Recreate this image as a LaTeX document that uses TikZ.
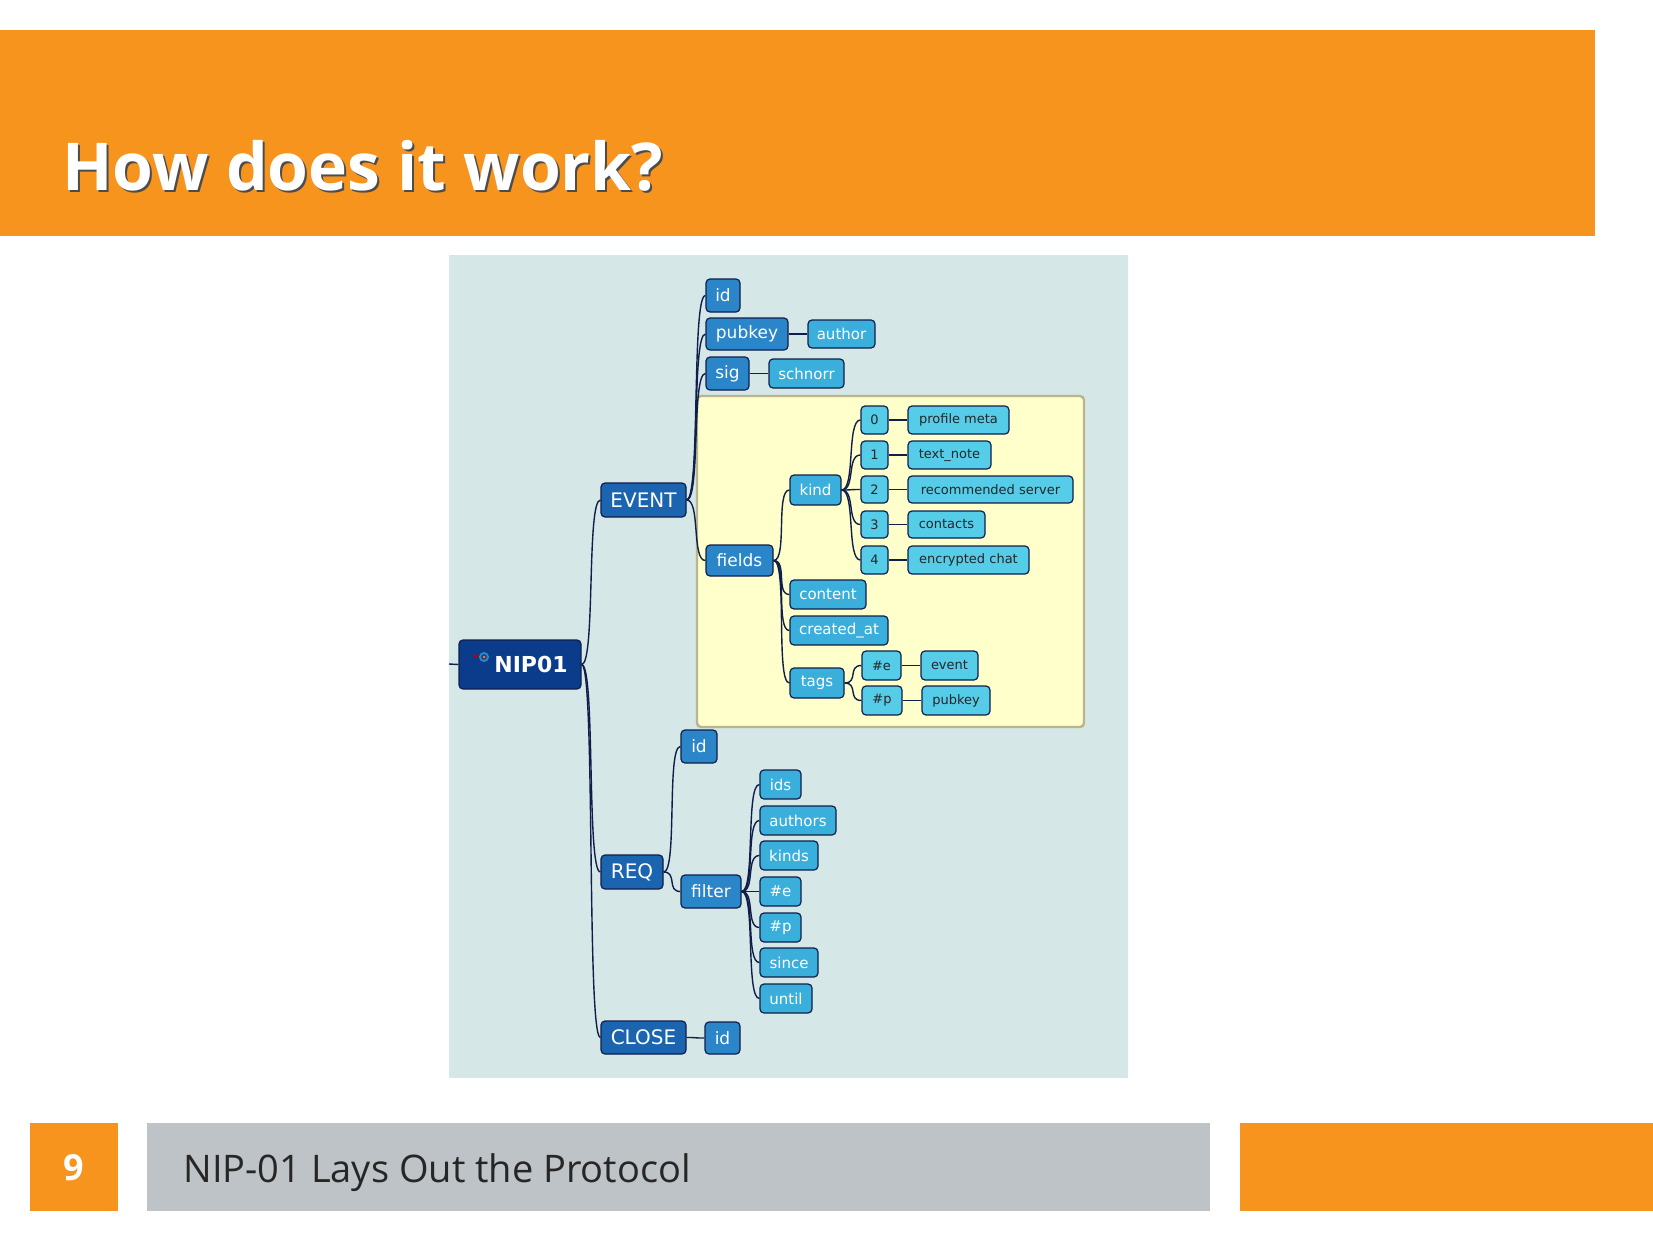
\documentclass[tikz,border=0pt]{standalone}
\usepackage{fontspec}
\setmainfont{Open Sans}
\newfontfamily\djvf{DejaVu Sans}
\usetikzlibrary{fit,calc}
\definecolor{orng}{HTML}{F7941E}
\definecolor{grayb}{HTML}{BEC3C7}
\definecolor{panel}{HTML}{D6E7E8}
\definecolor{yel}{HTML}{FFFFCC}
\definecolor{yelb}{HTML}{B9B68C}
\definecolor{navy}{HTML}{101E4A}
\definecolor{cRoot}{HTML}{0B3C8C}
\definecolor{cA}{HTML}{1B64B0}
\definecolor{cB}{HTML}{2A86C8}
\definecolor{cC}{HTML}{3AAFDC}
\definecolor{cD}{HTML}{55CCE8}
\tikzset{
 box/.style={draw=navy,line width=0.6pt,rounded corners=2pt,inner sep=0pt},
 lvA/.style={box,fill=cA},
 lvB/.style={box,fill=cB},
 lvC/.style={box,fill=cC},
 lvD/.style={box,fill=cD},
 conn/.style={draw=navy,line width=0.7pt},
}
\newcommand{\nd}[8]{\node[#6,fit={(#2,#3)(#4,#5)},label={[font=#7]center:{#8}}] (#1) {};}
\newcommand{\cn}[2]{\draw[conn] (#1.east) .. controls ($(#1.east)+(14,0)$) and ($(#2.west)+(-14,0)$) .. (#2.west);}
\begin{document}
\begin{tikzpicture}[x=0.5pt,y=-0.5pt]
\useasboundingbox (0,0) rectangle (1653,1241);
\fill[white] (0,0) rectangle (1653,1241);
% header
\fill[orng] (0,30) rectangle (1595,236);
\node[anchor=base west,inner sep=0,text=black!70,font=\fontsize{33}{38}\selectfont\bfseries] (tsh) at (64,193) {How does it work?};
\node[anchor=base west,inner sep=0,text=white,font=\fontsize{33}{38}\selectfont\bfseries] (title) at (62,191) {How does it work?};
% footer
\fill[orng] (30,1123) rectangle (118,1211);
\node[text=white,font=\fontsize{18}{20}\selectfont\bfseries] (num) at (74,1168) {9};
\fill[grayb] (147,1123) rectangle (1210,1211);
\node[anchor=base west,inner sep=0,font=\fontsize{19}{23}\selectfont,text=black!85] (foot) at (183,1182) {NIP-01 Lays Out the Protocol};
\fill[orng] (1240,1123) rectangle (1653,1211);
% panel
\fill[panel] (449,255) rectangle (1128,1078);
\draw[yelb,fill=yel,line width=1.2pt,rounded corners=2pt] (697,396) rectangle (1084,727);
\def\fA{\djvf\fontsize{10}{12}\selectfont\color{white}}
\def\fB{\djvf\fontsize{8.5}{10}\selectfont\color{white}}
\def\fC{\djvf\fontsize{7.5}{9}\selectfont\color{white}}
\def\fD{\djvf\fontsize{6.5}{8}\selectfont\color{black!85}}
\node[box,fill=cRoot,fit={(459,640)(581,689)}] (root) {};
\node[font=\djvf\fontsize{11}{13}\selectfont\bfseries,text=white] (rt) at (531,664) {NIP01};
\fill[red!70!black] (476,656) circle (2);
\draw[cB,line width=1pt] (484,657) circle (4);
\fill[orange] (484,657) circle (1.5);
\draw[conn] (449,664) -- (root.west);
\nd{ev}{601}{483}{686}{517}{lvA}{\fA}{EVENT}
\nd{req}{601}{855}{663}{889}{lvA}{\fA}{REQ}
\nd{cl}{601}{1021}{686}{1054}{lvA}{\fA}{CLOSE}
\nd{eid}{706}{279}{740}{312}{lvB}{\fB}{id}
\nd{pk}{706}{318}{788}{350}{lvB}{\fB}{pubkey}
\nd{au}{808}{320}{875}{348}{lvC}{\fC}{author}
\nd{sig}{706}{357}{749}{390}{lvB}{\fB}{sig}
\nd{sch}{769}{359}{844}{388}{lvC}{\fC}{schnorr}
\nd{fi}{706}{545}{773}{576}{lvB}{\fB}{fields}
\nd{ki}{790}{475}{841}{505}{lvC}{\fC}{kind}
\nd{k0}{861}{406}{888}{434}{lvD}{\fD}{0}
\nd{k1}{861}{441}{888}{469}{lvD}{\fD}{1}
\nd{k2}{861}{476}{888}{503}{lvD}{\fD}{2}
\nd{k3}{861}{511}{888}{538}{lvD}{\fD}{3}
\nd{k4}{861}{546}{888}{574}{lvD}{\fD}{4}
\nd{v0}{908}{406}{1009}{434}{lvD}{\fD}{profile meta}
\nd{v1}{908}{441}{991}{469}{lvD}{\fD}{text\_note}
\nd{v2}{908}{476}{1073}{503}{lvD}{\fD}{recommended server}
\nd{v3}{908}{511}{985}{538}{lvD}{\fD}{contacts}
\nd{v4}{908}{546}{1029}{574}{lvD}{\fD}{encrypted chat}
\nd{co}{790}{580}{866}{609}{lvC}{\fC}{content}
\nd{cr}{790}{616}{888}{645}{lvC}{\fC}{created\_at}
\nd{tg}{790}{668}{844}{698}{lvC}{\fC}{tags}
\nd{te}{862}{651}{901}{680}{lvD}{\fD}{\#e}
\nd{tev}{921}{651}{978}{680}{lvD}{\fD}{event}
\nd{tp}{862}{686}{902}{715}{lvD}{\fD}{\#p}
\nd{tpv}{922}{686}{990}{715}{lvD}{\fD}{pubkey}
\nd{rid}{681}{730}{717}{763}{lvB}{\fB}{id}
\nd{flt}{681}{875}{741}{908}{lvB}{\fB}{filter}
\nd{f1}{760}{770}{801}{799}{lvC}{\fC}{ids}
\nd{f2}{760}{806}{836}{835}{lvC}{\fC}{authors}
\nd{f3}{760}{841}{818}{870}{lvC}{\fC}{kinds}
\nd{f4}{760}{877}{801}{906}{lvC}{\fC}{\#e}
\nd{f5}{760}{913}{801}{942}{lvC}{\fC}{\#p}
\nd{f6}{760}{948}{818}{977}{lvC}{\fC}{since}
\nd{f7}{760}{984}{812}{1013}{lvC}{\fC}{until}
\nd{cid}{705}{1022}{740}{1054}{lvB}{\fB}{id}
\cn{root}{ev}\cn{root}{req}\cn{root}{cl}
\cn{ev}{eid}\cn{ev}{pk}\cn{ev}{sig}\cn{ev}{fi}
\cn{pk}{au}\cn{sig}{sch}
\cn{fi}{ki}\cn{fi}{co}\cn{fi}{cr}\cn{fi}{tg}
\cn{ki}{k0}\cn{ki}{k1}\cn{ki}{k2}\cn{ki}{k3}\cn{ki}{k4}
\cn{k0}{v0}\cn{k1}{v1}\cn{k2}{v2}\cn{k3}{v3}\cn{k4}{v4}
\cn{tg}{te}\cn{tg}{tp}\cn{te}{tev}\cn{tp}{tpv}
\cn{req}{rid}\cn{req}{flt}
\cn{flt}{f1}\cn{flt}{f2}\cn{flt}{f3}\cn{flt}{f4}\cn{flt}{f5}\cn{flt}{f6}\cn{flt}{f7}
\cn{cl}{cid}
\end{tikzpicture}
\end{document}
